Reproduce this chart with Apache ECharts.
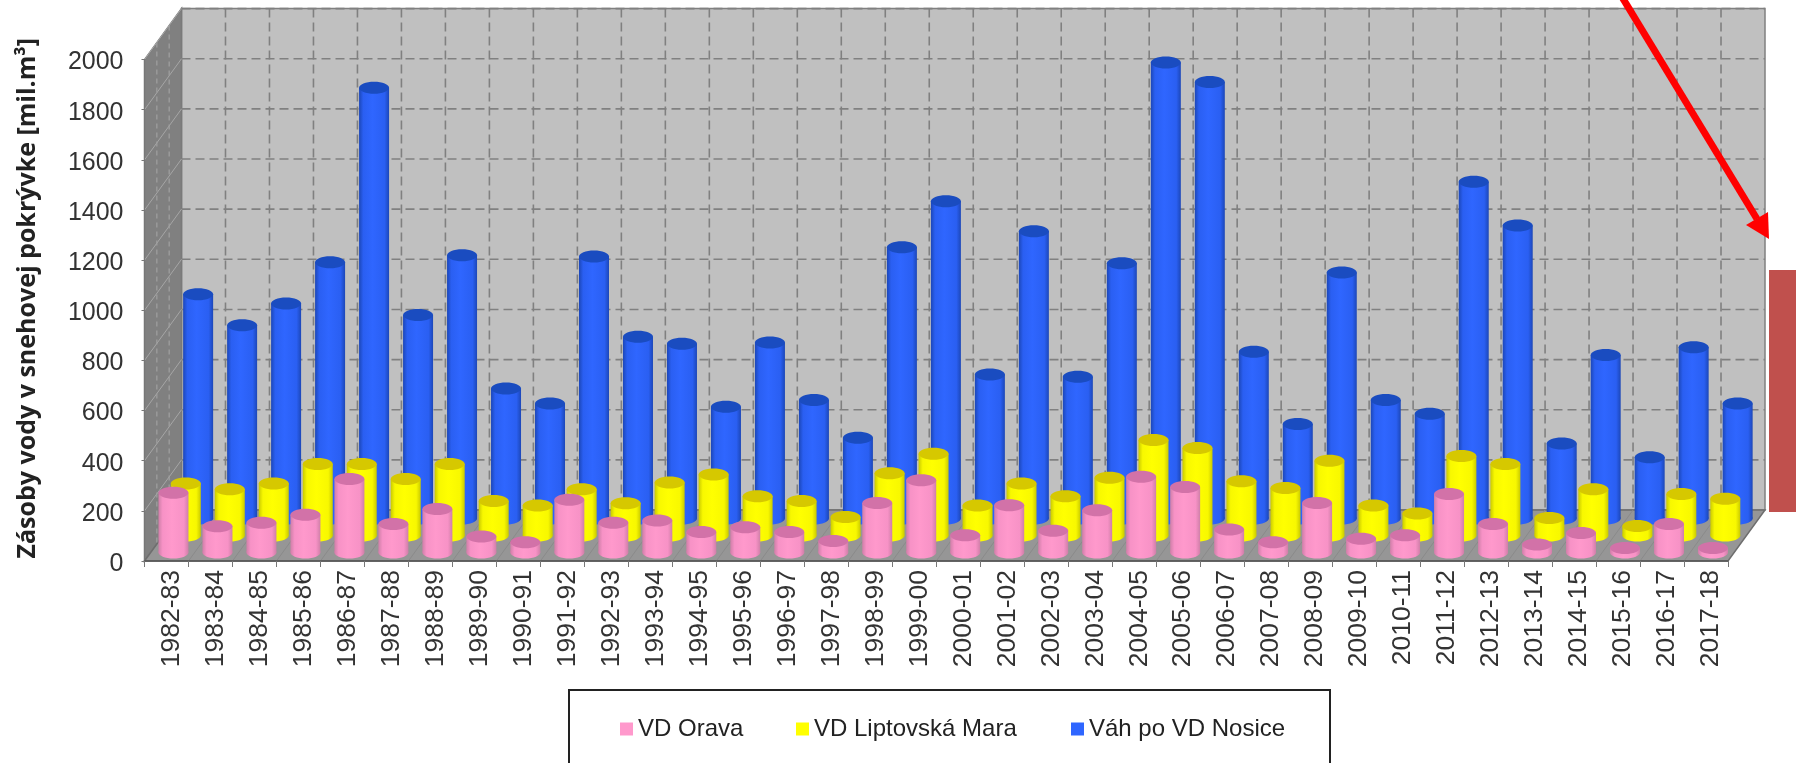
<!DOCTYPE html>
<html><head><meta charset="utf-8">
<style>html,body{margin:0;padding:0;background:#fff;overflow:hidden}#c{width:1798px;height:763px;filter:blur(0.6px)}</style>
<script src="https://cdn.jsdelivr.net/npm/echarts@6/dist/echarts.min.js"></script>
</head><body><div id="c"></div>
<script>
const categories = ['1982-83','1983-84','1984-85','1985-86','1986-87','1987-88','1988-89','1989-90','1990-91','1991-92','1992-93','1993-94','1994-95','1995-96','1996-97','1997-98','1998-99','1999-00','2000-01','2001-02','2002-03','2003-04','2004-05','2005-06','2006-07','2007-08','2008-09','2009-10','2010-11','2011-12','2012-13','2013-14','2014-15','2015-16','2016-17','2017-18'];
const orava = [238,105,119,151,293,114,174,64,41,210,119,128,82,101,82,46,197,288,69,188,87,169,302,261,92,41,197,55,69,233,114,32,78,18,114,18];
const liptovskaMara = [207,184,207,285,285,225,285,138,120,184,129,211,243,157,138,74,248,326,120,207,157,230,381,349,216,189,298,120,88,317,285,70,184,38,166,147];
const nosice = [894,771,858,1022,1718,812,1050,519,459,1045,725,697,446,702,473,322,1082,1265,574,1146,565,1018,1819,1741,665,377,981,473,418,1343,1169,299,652,244,683,459];
const yTicks = [0,200,400,600,800,1000,1200,1400,1600,1800,2000];

const DX = 37, DY = 51;           // depth of the 3D box in pixels
const RX = 15, RY = 6;            // cylinder radii
const font = '"Liberation Sans", Arial, sans-serif';

function backdrop(params, api) {
  const cs = params.coordSys, l = cs.x, r = cs.x + cs.width, t = cs.y, b = cs.y + cs.height;
  const band = api.size([1, 0])[0];
  const kids = [];
  const poly = (pts, fill, stroke) => kids.push({type:'polygon', shape:{points:pts}, style:{fill, stroke: stroke||null, lineWidth:1.5}});
  const line = (x1,y1,x2,y2,stroke,w,dash) => kids.push({type:'line', shape:{x1,y1,x2,y2}, style:{stroke, lineWidth:w, lineDash:dash||null}});
  poly([[l+DX,t-DY],[r+DX,t-DY],[r+DX,b-DY],[l+DX,b-DY]], '#c0c0c0', '#808080');
  poly([[l,t],[l+DX,t-DY],[l+DX,b-DY],[l,b]], '#808080', '#7a7a7a');
  poly([[l,b],[l+DX,b-DY],[r+DX,b-DY],[r,b]], '#969696', '#6e6e6e');
  yTicks.forEach(v => {
    const y = api.coord([0, v])[1];
    if (v > 0) line(l+DX, y-DY, r+DX, y-DY, '#808080', 1.6, [9,5]);
    if (v > 0) line(l, y, l+DX, y-DY, '#a6a6a6', 1);
  });
  for (let i = 1; i < categories.length; i++) {
    const x = l + band*i + DX;
    line(x, t-DY, x, b-DY, '#808080', 1.6, [9,5]);
    line(x-DX, b, x, b-DY, '#8a8a8a', 1);
  }
  [1/3, 2/3].forEach(f => line(l+DX*f, t-DY*f, l+DX*f, b-DY*f, '#a0a0a0', 1.2, [5,4]));
  return {type:'group', children:kids, silent:true};
}

function cylinder(row, colors) {
  const depth = (row*2+1)/6;
  return function (params, api) {
    const top = api.coord([api.value(0), api.value(1)]);
    const base = api.coord([api.value(0), 0]);
    const ox = DX*depth + 0.8, oy = DY*depth;
    const cx = top[0]+ox, ty = top[1]-oy, by = base[1]-oy;
    const grad = {type:'linear', x:0,y:0,x2:1,y2:0, colorStops:[
      {offset:0,color:colors.edge},{offset:.14,color:colors.mid},{offset:.45,color:colors.main},{offset:.85,color:colors.mid},{offset:1,color:colors.edge}]};
    return {type:'group', children:[
      {type:'ellipse', shape:{cx, cy:by, rx:RX, ry:RY}, style:{fill:grad}},
      {type:'rect', shape:{x:cx-RX, y:ty, width:RX*2, height:Math.max(by-ty,0)}, style:{fill:grad}},
      {type:'ellipse', shape:{cx, cy:ty, rx:RX, ry:RY}, style:{fill:colors.top}}
    ]};
  };
}
const toData = arr => arr.map((v,i) => [i,v]);
const palette = {
  orava:{main:'#ff99cc',mid:'#f792c6',edge:'#cf7fa8',top:'#d272a8'},
  mara:{main:'#ffff00',mid:'#f8f800',edge:'#caca00',top:'#d6c800'},
  nosice:{main:'#2f66ff',mid:'#2a5ff2',edge:'#1c47b8',top:'#1a4cc0'}
};
const mkSeries = (name,row,arr,c) => ({name,type:'custom',coordinateSystem:'cartesian2d',clip:false,animation:false,
  data:toData(arr),encode:{x:0,y:1},itemStyle:{color:c.main},renderItem:cylinder(row,c)});
const mkLegend = (name,left) => ({data:[name],left,top:717,padding:0,icon:'rect',itemWidth:13,itemHeight:13,itemGap:6,
  selectedMode:false,textStyle:{fontFamily:font,fontSize:24,color:'#222',padding:[0,0,0,0]}});

const chart = echarts.init(document.getElementById('c'), null, {renderer:'canvas'});
chart.setOption({
  backgroundColor:'#fff',
  animation:false,
  grid:{left:144.5,right:70,top:59.6,bottom:202,containLabel:false},
  legend:[mkLegend('VD Orava',620),mkLegend('VD Liptovská Mara',796),mkLegend('Váh po VD Nosice',1071)],
  xAxis:{type:'category',data:categories,z:5,
    axisLine:{lineStyle:{color:'#555',width:1.5}},
    axisTick:{show:true,length:6,lineStyle:{color:'#777'}},
    axisLabel:{interval:0,rotate:90,margin:9,fontFamily:font,fontSize:26.5,color:'#333',verticalAlign:'top',lineHeight:10},
    splitLine:{show:false}},
  yAxis:{type:'value',min:0,max:2000,interval:200,z:5,
    name:'Zásoby vody v snehovej pokrývke [mil.m³]',nameLocation:'middle',nameGap:104,
    nameTextStyle:{fontFamily:'"Open Sans", sans-serif',fontWeight:'bold',fontSize:25,color:'#222',padding:[0,0,0,24]},
    axisLine:{show:true,lineStyle:{color:'#777'}},
    axisTick:{show:true,length:3,lineStyle:{color:'#777'}},
    axisLabel:{margin:21,fontFamily:font,fontSize:25,color:'#333',verticalAlign:'top',lineHeight:6,formatter:v=>String(v)},
    splitLine:{show:false}},
  series:[
    {name:'backdrop',type:'custom',coordinateSystem:'cartesian2d',clip:false,animation:false,silent:true,data:[[0,0]],encode:{x:0,y:1},renderItem:backdrop},
    mkSeries('Váh po VD Nosice',2,nosice,palette.nosice),
    mkSeries('VD Liptovská Mara',1,liptovskaMara,palette.mara),
    mkSeries('VD Orava',0,orava,palette.orava)
  ],
  graphic:[
    {type:'rect',z:-1,shape:{x:569,y:690,width:761,height:90},style:{fill:'#fff',stroke:'#222',lineWidth:2},silent:true},
    {type:'rect',z:50,shape:{x:1769,y:270,width:27,height:242},style:{fill:'#c0504d'},silent:true},
    {type:'line',z:51,shape:{x1:1622,y1:-3,x2:1757,y2:219},style:{stroke:'#ff0000',lineWidth:7},silent:true},
    {type:'polygon',z:51,shape:{points:[[1769,239],[1768,212],[1746,225]]},style:{fill:'#ff0000'},silent:true}
  ]
});
</script></body></html>
